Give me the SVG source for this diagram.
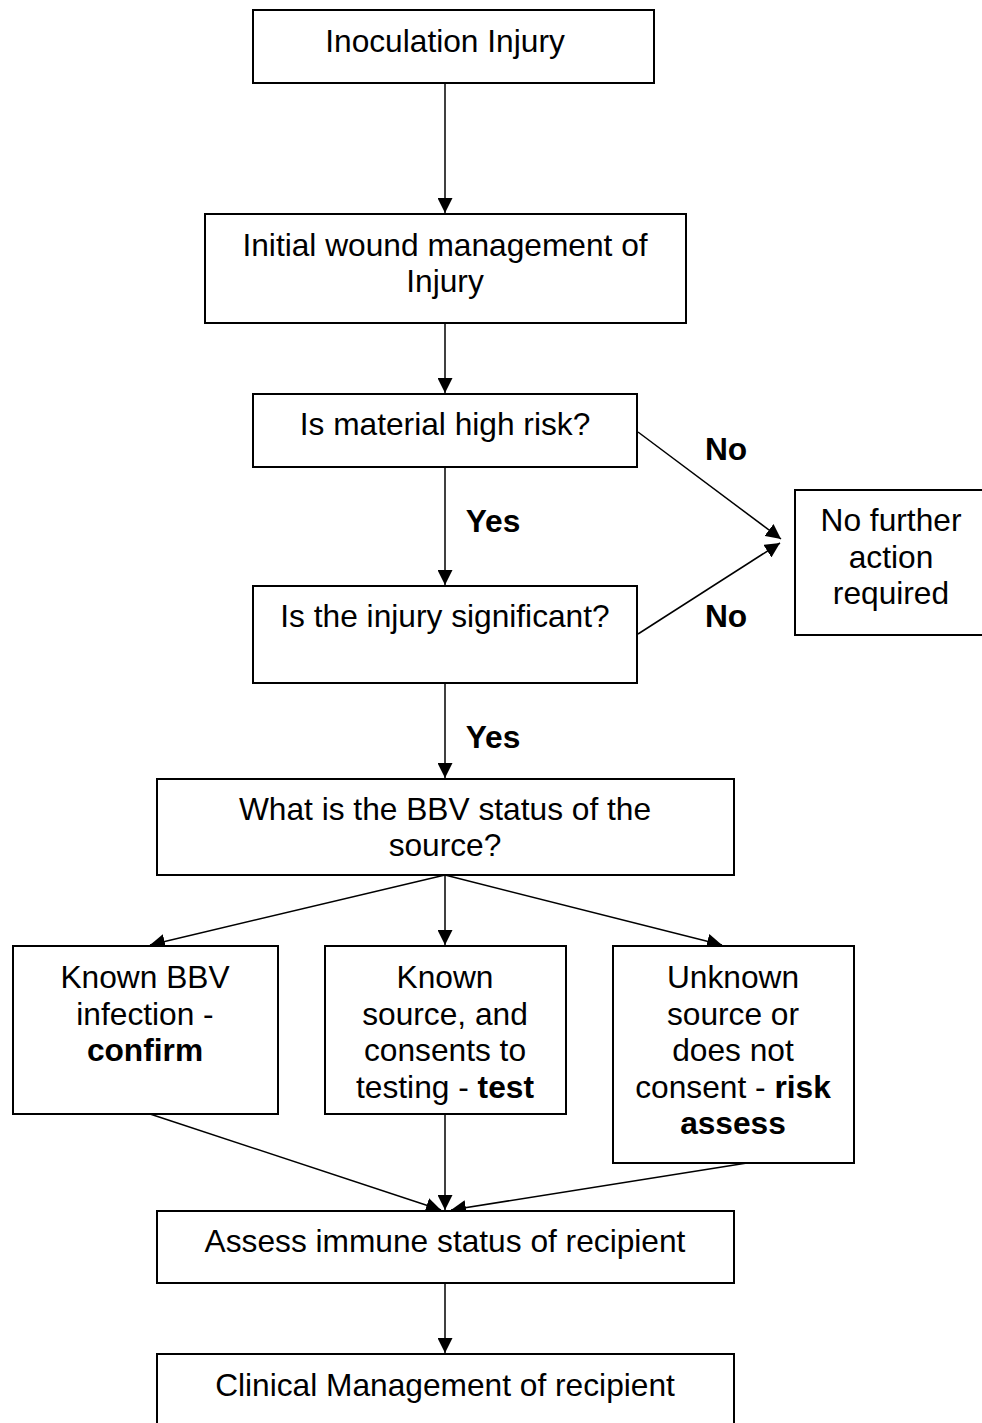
<svg xmlns="http://www.w3.org/2000/svg" width="982" height="1423" viewBox="0 0 982 1423">
<style>
.box{fill:#fff;stroke:#000;stroke-width:2}
.t{font-family:"Liberation Sans",Arial,sans-serif;font-size:31.7px;fill:#000;text-anchor:middle}
.b{font-weight:bold}
.c{fill:none;stroke:#000;stroke-width:1.5}
</style>
<defs>
<marker id="ah" markerWidth="15" markerHeight="15" viewBox="0 0 15 15" refX="15" refY="7.5" orient="auto" markerUnits="userSpaceOnUse">
<path d="M0,0 L15,7.5 L0,15 Z" fill="#000"/>
</marker>
</defs>
<rect width="982" height="1423" fill="#fff"/>
<g id="connectors">
<line class="c" x1="445" y1="83" x2="445" y2="213" marker-end="url(#ah)"/>
<line class="c" x1="445" y1="323" x2="445" y2="393" marker-end="url(#ah)"/>
<line class="c" x1="445" y1="467" x2="445" y2="585" marker-end="url(#ah)"/>
<line class="c" x1="445" y1="683" x2="445" y2="778" marker-end="url(#ah)"/>
<line class="c" x1="638" y1="432" x2="781" y2="539" marker-end="url(#ah)"/>
<line class="c" x1="638" y1="634" x2="780" y2="543" marker-end="url(#ah)"/>
<line class="c" x1="445" y1="875" x2="150" y2="945" marker-end="url(#ah)"/>
<line class="c" x1="445" y1="875" x2="445" y2="945" marker-end="url(#ah)"/>
<line class="c" x1="445" y1="875" x2="722" y2="945" marker-end="url(#ah)"/>
<line class="c" x1="150" y1="1114" x2="441" y2="1210" marker-end="url(#ah)"/>
<line class="c" x1="445" y1="1114" x2="445" y2="1210" marker-end="url(#ah)"/>
<line class="c" x1="747" y1="1163" x2="451" y2="1210" marker-end="url(#ah)"/>
<line class="c" x1="445" y1="1283" x2="445" y2="1353" marker-end="url(#ah)"/>
<text class="t b" x="493" y="532">Yes</text>
<text class="t b" x="493" y="748">Yes</text>
<text class="t b" x="726" y="460">No</text>
<text class="t b" x="726" y="627">No</text>
</g>
<g id="n1"><rect class="box" x="253" y="10" width="401" height="73"/><text class="t" x="445" y="52">Inoculation Injury</text></g>
<g id="n2"><rect class="box" x="205" y="214" width="481" height="109"/><text class="t" x="445" y="256">Initial wound management of</text><text class="t" x="445" y="292">Injury</text></g>
<g id="n3"><rect class="box" x="253" y="394" width="384" height="73"/><text class="t" x="445" y="435">Is material high risk?</text></g>
<g id="n4"><rect class="box" x="253" y="586" width="384" height="97"/><text class="t" x="445" y="627">Is the injury significant?</text></g>
<g id="n5"><rect class="box" x="795" y="490" width="190" height="145"/><text class="t" x="891" y="531">No further</text><text class="t" x="891" y="567.5">action</text><text class="t" x="891" y="604">required</text></g>
<g id="n6"><rect class="box" x="157" y="779" width="577" height="96"/><text class="t" x="445" y="820">What is the BBV status of the</text><text class="t" x="445" y="856">source?</text></g>
<g id="n7"><rect class="box" x="13" y="946" width="265" height="168"/><text class="t" x="145" y="988">Known BBV</text><text class="t" x="145" y="1024.5">infection -</text><text class="t b" x="145" y="1061">confirm</text></g>
<g id="n8"><rect class="box" x="325" y="946" width="241" height="168"/><text class="t" x="445" y="988">Known</text><text class="t" x="445" y="1024.5">source, and</text><text class="t" x="445" y="1061">consents to</text><text class="t" x="445" y="1097.5">testing - <tspan class="b">test</tspan></text></g>
<g id="n9"><rect class="box" x="613" y="946" width="241" height="217"/><text class="t" x="733" y="988">Unknown</text><text class="t" x="733" y="1024.5">source or</text><text class="t" x="733" y="1061">does not</text><text class="t" x="733" y="1097.5">consent - <tspan class="b">risk</tspan></text><text class="t b" x="733" y="1134">assess</text></g>
<g id="n10"><rect class="box" x="157" y="1211" width="577" height="72"/><text class="t" x="445" y="1252">Assess immune status of recipient</text></g>
<g id="n11"><rect class="box" x="157" y="1354" width="577" height="80"/><text class="t" x="445" y="1396">Clinical Management of recipient</text></g>
</svg>
